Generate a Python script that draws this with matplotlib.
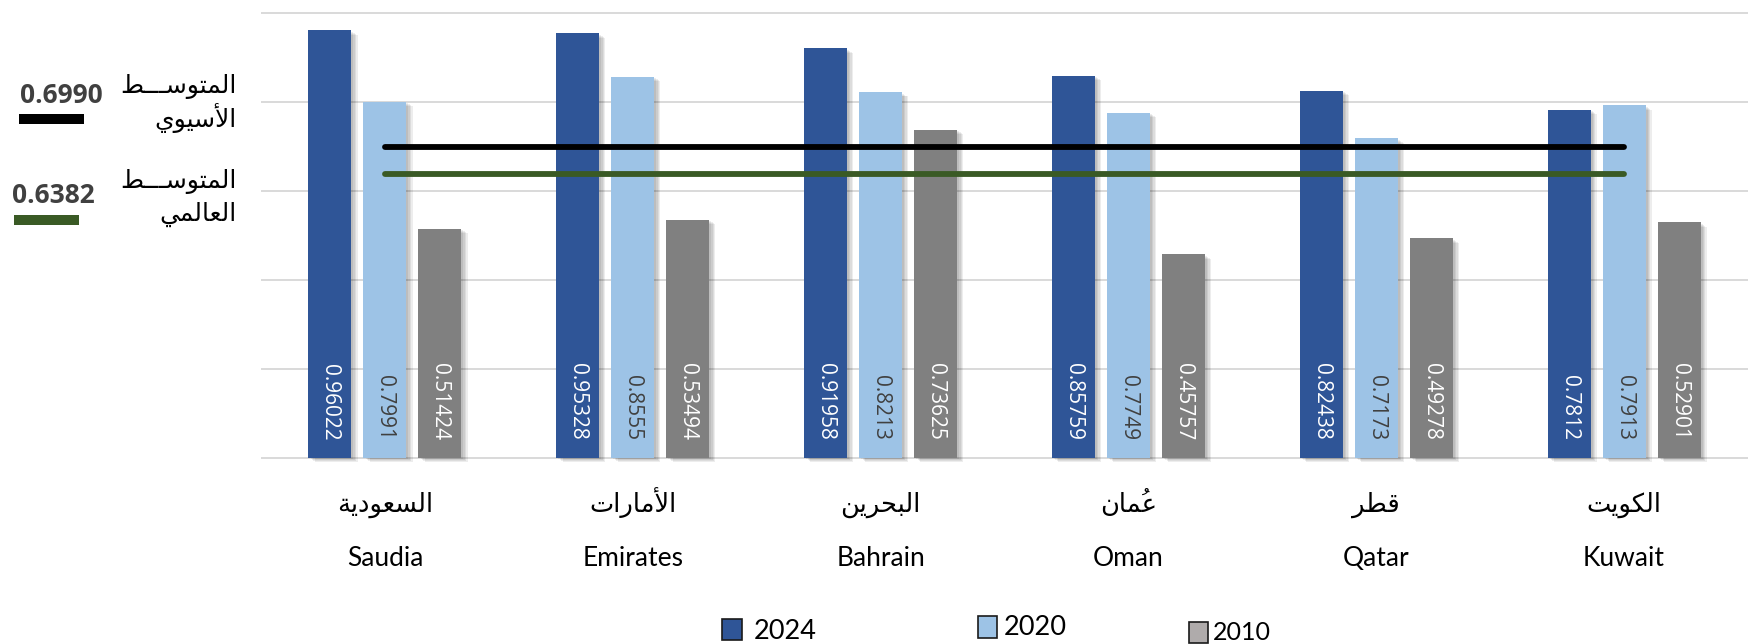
import matplotlib
matplotlib.use('Agg')
import matplotlib.pyplot as plt
import matplotlib.patheffects as pe
import matplotlib.transforms as mtransforms
from matplotlib.patches import Rectangle
import numpy as np

# ---------------- data ----------------
categories_ar = ['السعودية', 'الأمارات', 'البحرين', 'عُمان', 'قطر', 'الكويت']
categories_en = ['Saudia', 'Emirates', 'Bahrain', 'Oman', 'Qatar', 'Kuwait']
years = ['2024', '2020', '2010']
v2024 = [0.96022, 0.95328, 0.91958, 0.85759, 0.82438, 0.7812]
v2020 = [0.7991, 0.8555, 0.8213, 0.7749, 0.7173, 0.7913]
v2010 = [0.51424, 0.53494, 0.73625, 0.45757, 0.49278, 0.52901]
asia_avg = 0.6990
world_avg = 0.6382
asia_label = ['المتوســـط', 'الأسيوي']
world_label = ['المتوســـط', 'العالمي']

# ---------------- Arabic shaping helper (matplotlib has no complex layout) ----------------
_RJ = {'\u0622': 0xFE81, '\u0623': 0xFE83, '\u0624': 0xFE85, '\u0625': 0xFE87, '\u0627': 0xFE8D,
       '\u0629': 0xFE93, '\u062F': 0xFEA9, '\u0630': 0xFEAB, '\u0631': 0xFEAD, '\u0632': 0xFEAF,
       '\u0648': 0xFEED, '\u0649': 0xFEEF}
_DJ = {'\u0626': 0xFE89, '\u0628': 0xFE8F, '\u062A': 0xFE95, '\u062B': 0xFE99, '\u062C': 0xFE9D,
       '\u062D': 0xFEA1, '\u062E': 0xFEA5, '\u0633': 0xFEB1, '\u0634': 0xFEB5, '\u0635': 0xFEB9,
       '\u0636': 0xFEBD, '\u0637': 0xFEC1, '\u0638': 0xFEC5, '\u0639': 0xFEC9, '\u063A': 0xFECD,
       '\u0641': 0xFED1, '\u0642': 0xFED5, '\u0643': 0xFED9, '\u0644': 0xFEDD, '\u0645': 0xFEE1,
       '\u0646': 0xFEE5, '\u0647': 0xFEE9, '\u064A': 0xFEF1}
_LA = {'\u0622': 0xFEF5, '\u0623': 0xFEF7, '\u0625': 0xFEF9, '\u0627': 0xFEFB}
# spacing (isolated) forms of the harakat, so they can be drawn as their own text
_MARK_ISO = {'\u064B': '\uFE70', '\u064C': '\uFE72', '\u064D': '\uFE74', '\u064E': '\uFE76',
             '\u064F': '\uFE78', '\u0650': '\uFE7A', '\u0651': '\uFE7C', '\u0652': '\uFE7E'}
TATWEEL = '\u0640'


def _is_mark(c):
    return '\u064B' <= c <= '\u065F' or c == '\u0670'


def shape(word):
    letters = [c for c in word if not _is_mark(c)]
    merged = []
    i = 0
    while i < len(letters):
        b = letters[i]
        if b == '\u0644' and i + 1 < len(letters) and letters[i + 1] in _LA:
            merged.append('LA' + letters[i + 1])
            i += 2
        else:
            merged.append(b)
            i += 1

    def joins_next(b):
        return b in _DJ or b == TATWEEL

    def joins_prev(b):
        return b in _DJ or b in _RJ or b == TATWEEL or b.startswith('LA')

    out = []
    for i, b in enumerate(merged):
        prev = merged[i - 1] if i > 0 else None
        nxt = merged[i + 1] if i + 1 < len(merged) else None
        cp = prev is not None and joins_next(prev) and joins_prev(b)
        cn = nxt is not None and joins_next(b) and joins_prev(nxt)
        if b.startswith('LA'):
            g = chr(_LA[b[2]] + (1 if cp else 0))
        elif b in _DJ:
            g = chr(_DJ[b] + (3 if (cp and cn) else 1 if cp else 2 if cn else 0))
        elif b in _RJ:
            g = chr(_RJ[b] + (1 if cp else 0))
        else:
            g = b
        out.append(g)
    return ''.join(reversed(out))


# ---------------- figure ----------------
W, H = 1748, 644
fig = plt.figure(figsize=(W / 100, H / 100), dpi=100)
fig.patch.set_facecolor('white')
renderer = fig.canvas.get_renderer()

px_per_unit = 445.5
ax_top_px, ax_bot_px = 8, 462
base_px = 458
ax = fig.add_axes([261 / W, 1 - ax_bot_px / H, (W - 261) / W, (ax_bot_px - ax_top_px) / H])
ax.set_xlim(-0.5, len(categories_en) - 0.5)
ax.set_ylim(-(ax_bot_px - base_px) / px_per_unit, (base_px - ax_top_px) / px_per_unit)
ax.set_yticks([0, 0.2, 0.4, 0.6, 0.8, 1.0])
ax.yaxis.grid(True, color='#D9D9D9', linewidth=1.4)
ax.set_axisbelow(True)
ax.tick_params(length=0, labelleft=False, labelbottom=False)
for s in ax.spines.values():
    s.set_visible(False)

x = np.arange(len(categories_en))
colors = ['#2F5597', '#9DC3E6', '#808080']
label_colors = ['white', '#404040', 'white']
offset = 0.222
width = 0.173

shadow = [pe.SimplePatchShadow(offset=(o, -o * 0.7), shadow_rgbFace='black', alpha=0.07)
          for o in (4.5, 3.5, 2.5, 1.5)] + [pe.Normal()]

for k, vals in enumerate([v2024, v2020, v2010]):
    xs = x + (k - 1) * offset
    ax.bar(xs, vals, width=width, color=colors[k], zorder=3, path_effects=shadow)
    for xi, v in zip(xs, vals):
        ax.text(xi, 0.04, str(v), rotation=270, ha='center', va='bottom',
                color=label_colors[k], fontsize=15, family='Open Sans', zorder=5)

ax.plot([x[0], x[-1]], [asia_avg, asia_avg], color='black', lw=4.2,
        solid_capstyle='round', zorder=6)
ax.plot([x[0], x[-1]], [world_avg, world_avg], color='#3A5A25', lw=4.2,
        solid_capstyle='round', zorder=6)

# category labels
blend = mtransforms.blended_transform_factory(ax.transData, fig.transFigure)
ar_fs = 18.5
ar_base = 1 - 512 / H
for xi, ar, en in zip(x, categories_ar, categories_en):
    t = ax.text(xi, ar_base, shape(ar), transform=blend, ha='center', va='baseline',
                fontsize=ar_fs, family='DejaVu Sans', color='black', clip_on=False)
    marks = ''.join(_MARK_ISO.get(c, c) for c in ar if _is_mark(c))
    if marks:
        # diacritic over the first (right-most) letter, drawn on its own
        bb = t.get_window_extent(renderer)
        em = ar_fs * fig.dpi / 72
        fig.text((bb.x1 - 0.42 * em) / W, ar_base, marks, ha='center', va='baseline',
                 fontsize=ar_fs, family='DejaVu Sans', color='black')
    ax.text(xi, 1 - 566 / H, en, transform=blend, ha='center', va='baseline',
            fontsize=19, family='Lato', color='black', clip_on=False)

# left side average annotations
fig.text(20 / W, 1 - 103 / H, f'{asia_avg:.4f}', fontsize=19, family='Open Sans',
         weight='bold', color='#404040', ha='left', va='baseline')
fig.patches.append(Rectangle((19 / W, 1 - 124 / H), 65 / W, 10 / H, transform=fig.transFigure,
                             facecolor='black', edgecolor='none'))
fig.text(12 / W, 1 - 203 / H, f'{world_avg:.4f}', fontsize=19, family='Open Sans',
         weight='bold', color='#404040', ha='left', va='baseline')
fig.patches.append(Rectangle((14 / W, 1 - 225 / H), 65 / W, 10 / H, transform=fig.transFigure,
                             facecolor='#3A5A25', edgecolor='none'))

for txt, yb in [(asia_label[0], 93), (asia_label[1], 127), (world_label[0], 188), (world_label[1], 221)]:
    fig.text(237 / W, 1 - yb / H, shape(txt), fontsize=18, family='DejaVu Sans',
             ha='right', va='baseline', color='black')

# legend (manual, to match layout)
legend_colors = ['#2F5597', '#9DC3E6', '#AFABAB']
legend_boxes = [(722, 619, 20, 21), (978, 616, 19, 22), (1189, 622, 19, 21)]
legend_text = [(754, 639, 19.5), (1004, 635, 19.5), (1213, 640, 18)]
for yr, c, (bx, by, bw, bh), (tx, ty, fs) in zip(years, legend_colors, legend_boxes, legend_text):
    fig.patches.append(Rectangle((bx / W, 1 - (by + bh) / H), bw / W, bh / H,
                                 transform=fig.transFigure, facecolor=c,
                                 edgecolor='#1a1a1a', linewidth=1.2))
    fig.text(tx / W, 1 - ty / H, yr, fontsize=fs, family='Lato', color='black',
             ha='left', va='baseline')

fig.savefig('out.png', dpi=100, facecolor='white')
